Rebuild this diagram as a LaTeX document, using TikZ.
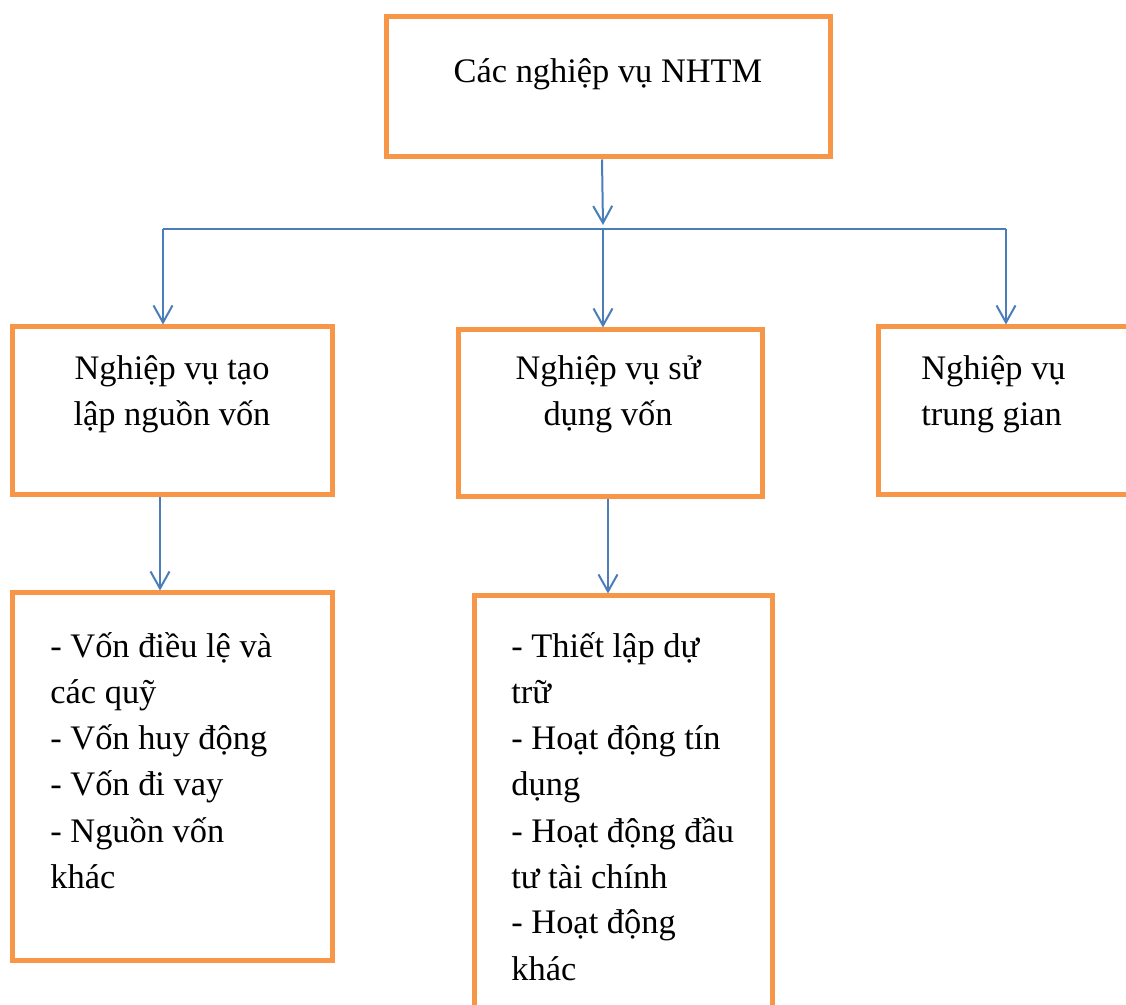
\documentclass[tikz,border=0pt]{standalone}
\usepackage{fontspec}
\setmainfont{Liberation Serif}
\usetikzlibrary{arrows.meta}
\definecolor{boxorange}{HTML}{F79646}
\definecolor{arrowblue}{HTML}{4A7EBB}
\begin{document}
\begin{tikzpicture}[x=0.5pt,y=-0.5pt,
  box/.style={draw=boxorange, line width=2.5pt, rectangle, inner sep=0pt},
  conn/.style={draw=arrowblue, line width=1pt},
  arr/.style={conn, -{Straight Barb[length=8.5pt,width=9.5pt]}},
  txt/.style={inner sep=0pt, anchor=base, font=\fontsize{17.2pt}{23pt}\selectfont},
  ltxt/.style={txt, anchor=base west}]
\useasboundingbox (0,0) rectangle (1126,1005);
\clip (0,0) rectangle (1126,1005);
% boxes
\node[box, minimum width=222pt, minimum height=70pt] (top) at (608,87) {};
\node[box, minimum width=160pt, minimum height=84pt] (L1) at (172,411) {};
\node[box, minimum width=152pt, minimum height=83.5pt] (M1) at (610,413.5) {};
\node[box, minimum width=160pt, minimum height=84pt] (R1) at (1038,411) {};
\node[box, minimum width=160pt, minimum height=183.5pt] (L2) at (172,776.5) {};
\node[box, minimum width=149pt, minimum height=222pt] (M2) at (623,818) {};
% texts
\node[txt] (ttop) at (608,83) {Các nghiệp vụ NHTM};
\node[txt] (tl1a) at (172,380) {Nghiệp vụ tạo};
\node[txt] (tl1b) at (172,426) {lập nguồn vốn};
\node[txt] (tm1a) at (608,380) {Nghiệp vụ sử};
\node[txt] (tm1b) at (608,426) {dụng vốn};
\node[ltxt] (tr1a) at (921,380) {Nghiệp vụ};
\node[ltxt] (tr1b) at (921,426) {trung gian};
\node[ltxt] (tl2a) at (50,658) {- Vốn điều lệ và};
\node[ltxt] (tl2b) at (50,704) {các quỹ};
\node[ltxt] (tl2c) at (50,750) {- Vốn huy động};
\node[ltxt] (tl2d) at (50,796) {- Vốn đi vay};
\node[ltxt] (tl2e) at (50,842) {- Nguồn vốn};
\node[ltxt] (tl2f) at (50,888) {khác};
\node[ltxt] (tm2a) at (511,658) {- Thiết lập dự};
\node[ltxt] (tm2b) at (511,704) {trữ};
\node[ltxt] (tm2c) at (511,750) {- Hoạt động tín};
\node[ltxt] (tm2d) at (511,796) {dụng};
\node[ltxt] (tm2e) at (511,842) {- Hoạt động đầu};
\node[ltxt] (tm2f) at (511,888) {tư tài chính};
\node[ltxt] (tm2g) at (511,934) {- Hoạt động};
\node[ltxt] (tm2h) at (511,980) {khác};
% connectors
\coordinate (j) at (603,229);
\coordinate (hl) at (163,229);
\coordinate (hr) at (1006,229);
\draw[arr] ([xshift=-3pt]top.south) -- ([yshift=2pt]j);
\draw[conn] (hl) -- (hr);
\draw[arr] (hl) -- (hl |- L1.north);
\draw[arr] (j) -- (j |- M1.north);
\draw[arr] (hr) -- (hr |- R1.north);
\draw[arr] ([xshift=-6pt]L1.south) -- ([xshift=-6pt]L2.north -| L1.south);
\draw[arr] ([xshift=-1pt]M1.south) -- ([xshift=-1pt]M1.south |- M2.north);
\end{tikzpicture}
\end{document}
